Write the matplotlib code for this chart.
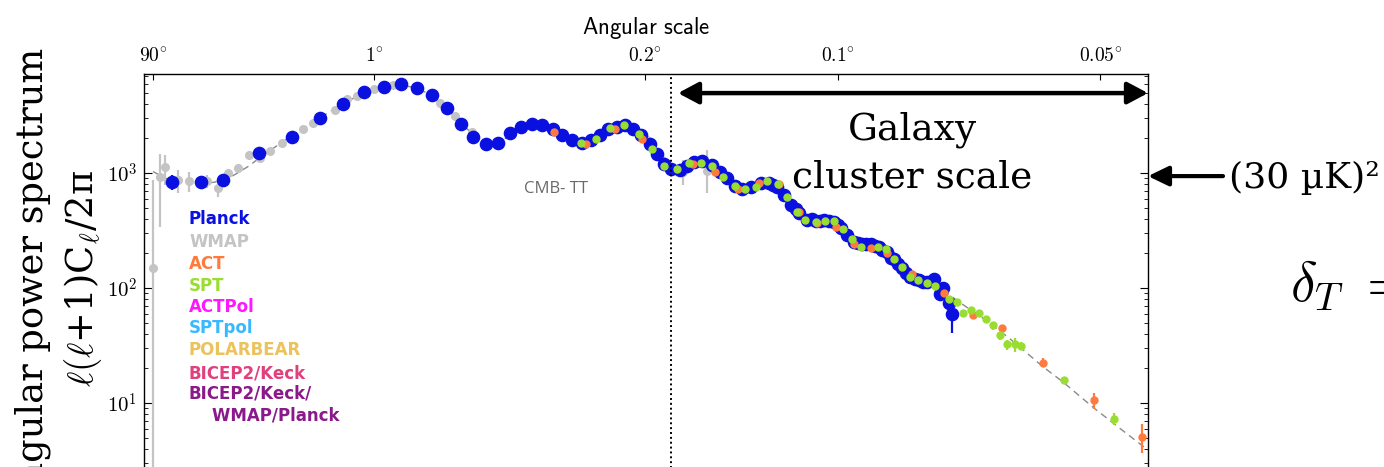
import numpy as np
import matplotlib
matplotlib.use("Agg")
import matplotlib.pyplot as plt
from matplotlib.ticker import NullLocator, LogLocator, NullFormatter

plt.rcParams['mathtext.fontset'] = 'cm'

# ---------------- data ----------------
theory_ell = [2, 4, 7, 12, 20, 30, 40, 50, 70, 90, 110, 130, 150, 170, 195, 220, 245, 270,
              300, 330, 360, 390, 415, 440, 470, 500, 530, 555, 590, 620, 650, 680, 710,
              750, 790, 825, 855, 885, 915, 945, 975, 1000, 1035, 1070, 1100, 1135, 1175,
              1210, 1245, 1280, 1315, 1355, 1400, 1440, 1480, 1515, 1550, 1590, 1635, 1680,
              1730, 1780, 1820, 1855, 1895, 1940, 1990, 2040, 2090, 2130, 2180, 2230, 2285,
              2340, 2400, 2450, 2500, 2600, 2700, 2800, 2900, 3000, 3150, 3300, 3550, 3800, 4000]
theory_D = [1030, 900, 840, 815, 830, 950, 1150, 1420, 1950, 2500, 3150, 3850, 4500, 5100,
            5600, 5800, 5600, 5050, 4150, 3150, 2400, 1950, 1800, 1850, 2200, 2500, 2640,
            2620, 2400, 2120, 1900, 1820, 1930, 2230, 2480, 2560, 2420, 2100, 1750, 1430,
            1200, 1080, 1070, 1160, 1235, 1255, 1170, 1030, 890, 780, 730, 760, 820, 830,
            770, 650, 535, 450, 395, 380, 385, 375, 335, 292, 255, 238, 235, 226, 205, 180,
            150, 127, 116, 110, 103, 95, 84, 68, 56, 45.5, 36.5, 29, 20.6, 15.3, 9.0, 5.6, 3.9]

planck_ell = [5.3, 14.3, 24.3, 47.6, 76, 106, 135, 165, 195, 225, 254, 284, 314, 345, 374,
              404, 435, 464, 495, 526, 555, 587, 615, 646, 676, 708, 736, 766, 797, 824, 856,
              883, 917, 947, 975, 1000, 1038, 1068, 1098, 1131, 1176, 1209, 1243, 1276, 1312,
              1352, 1400, 1441, 1462, 1482, 1516, 1550, 1575, 1592, 1636, 1660, 1680, 1705,
              1728, 1755, 1779, 1803, 1822, 1855, 1893, 1917, 1941, 1965, 1990, 2015, 2039,
              2060, 2089, 2111, 2130, 2155, 2180, 2206, 2231, 2258, 2284, 2308, 2338, 2380,
              2418, 2443, 2480, 2502]
planck_D = [830, 830, 864, 1493, 2069, 3027, 3959, 5030, 5597, 5940, 5520, 4740, 3700, 2685,
            2044, 1798, 1823, 2214, 2497, 2651, 2630, 2428, 2153, 1936, 1834, 1936, 2153,
            2399, 2527, 2599, 2428, 2153, 1777, 1463, 1198, 1077, 1062, 1150, 1239, 1279,
            1174, 1026, 899, 776, 722, 760, 823, 823, 790, 760, 644, 527, 483, 446, 390, 400,
            382, 385, 390, 385, 377, 353, 330, 289, 253, 245, 241, 240, 241, 232, 229, 215,
            207, 181, 178, 163, 148, 136, 125, 120, 117, 113, 113, 120, 89, 101, 74, 60]
planck_lo = [711] + [None] * (len(planck_ell) - 2) + [41]
planck_hi = [961] + [None] * (len(planck_ell) - 2) + [78]

wmap_ell = [2, 3, 4, 7, 10, 17, 22, 27, 33, 40, 48, 56, 66, 87, 98, 124, 140, 154, 179, 211,
            300, 331, 370, 906, 965, 1052, 1153]
wmap_D = [150, 918, 1121, 869, 857, 857, 736, 995, 1112, 1434, 1342, 1555, 1810, 2399, 2704,
          3530, 4375, 4700, 5373, 5800, 4083, 3132, 2287, 1950, 1300, 1020, 1040]
wmap_lo = [1, 340, 786, 670, 688, 736, 622] + [None] * 16 + [1800, 1150, 786, 670]
wmap_hi = [869, 1464, 1420, 1062, 1026, 961, 813] + [None] * 16 + [2100, 1480, 1300, 1585]

act_ell = [591, 691, 790, 890, 1092, 1190, 1292, 1392, 1490, 1592, 1690, 1790, 1893, 1990,
           2090, 2243, 2446, 2645, 2845, 3146, 3548, 3947]
act_D = [2287, 1777, 2399, 1963, 1198, 1026, 721, 813, 800, 460, 370, 341, 241, 222, 201,
         133, 91, 58, 44.6, 22.5, 10.6, 5.1]
act_lo = [None] * 19 + [20.5, 8.8, 3.7]
act_hi = [None] * 19 + [24.5, 12.2, 6.6]

spt_ell = [674, 725, 773, 823, 876, 926, 975, 1027, 1075, 1125, 1176, 1224, 1276, 1327, 1378,
           1429, 1483, 1530, 1580, 1626, 1680, 1729, 1779, 1831, 1879, 1932, 2033, 2084, 2130,
           2176, 2229, 2282, 2338, 2387, 2481, 2532, 2577, 2631, 2681, 2733, 2785, 2832, 2884,
           2938, 2983, 3313, 3712]
spt_D = [1812, 1963, 2459, 2630, 2196, 1606, 1157, 1077, 1225, 1214, 1150, 928, 776, 726, 760,
         852, 802, 615, 461, 390, 377, 384, 382, 324, 266, 229, 229, 217, 178, 152, 124, 117,
         110, 105, 80, 75, 61, 64.4, 61, 54, 47.7, 39, 32.6, 32.6, 31, 15.8, 7.2]
spt_lo = [None] * 40 + [43, 35.3, 28.9, 28, 28.9, None, 6.4]
spt_hi = [None] * 40 + [50.7, 41, 35.3, 37, 34, None, 8.2]

legend_names = ['Planck', 'WMAP', 'ACT', 'SPT', 'ACTPol', 'SPTpol', 'POLARBEAR',
                'BICEP2/Keck', 'BICEP2/Keck/', '    WMAP/Planck']
legend_colors = ['#0a10e0', '#c4c4c4', '#ff7a3c', '#99dd33', '#ff18ff', '#38b8ff',
                 '#ebc25c', '#e0407c', '#8a1a8a', '#8a1a8a']

angle_deg = [90, 1, 0.2, 0.1, 0.05]
angle_labels = [r'$\mathsf{90^{\circ}}$', r'$\mathsf{1^{\circ}}$', r'$\mathsf{0.2^{\circ}}$',
                r'$\mathsf{0.1^{\circ}}$', r'$\mathsf{0.05^{\circ}}$']
cluster_ell_min = 1030
vline_ell = 1000
ref_level = 940   # (30 uK)^2 marker level

# ---------------- figure ----------------
W, H = 1384, 467
fig = plt.figure(figsize=(W / 100, H / 100), dpi=100)


def fx(px):
    return px / W


def fy(py):
    return 1 - py / H


ax = fig.add_axes([fx(144), fy(518), (1148 - 144) / W, (518 - 74) / H])

P = 0.45
ax.set_xscale('function', functions=(lambda x: np.power(np.clip(x, 1e-9, None), P),
                                     lambda u: np.power(np.clip(u, 0, None), 1 / P)))
ax.set_yscale('log')
ax.set_xlim(1, 4000)
ax.set_ylim(1, 10 ** 3.861)


def yerr(D, lo, hi):
    lo_e = [d - l if l is not None else 0 for d, l in zip(D, lo)]
    hi_e = [h - d if h is not None else 0 for d, h in zip(D, hi)]
    return [lo_e, hi_e]


ax.plot(theory_ell, theory_D, ls=(0, (5, 3.5)), color='#8a8a8a', lw=1.0, zorder=1.5)

ax.errorbar(wmap_ell, wmap_D, yerr=yerr(wmap_D, wmap_lo, wmap_hi), fmt='o', ms=5.5,
            color=legend_colors[1], mec=legend_colors[1], elinewidth=1.6, capsize=0, zorder=2)
ax.errorbar(planck_ell, planck_D, yerr=yerr(planck_D, planck_lo, planck_hi), fmt='o', ms=8.8,
            color=legend_colors[0], mec=legend_colors[0], elinewidth=1.6, capsize=0, zorder=3)
ax.errorbar(act_ell, act_D, yerr=yerr(act_D, act_lo, act_hi), fmt='o', ms=5.0,
            color=legend_colors[2], mec=legend_colors[2], elinewidth=1.6, capsize=0, zorder=4)
ax.errorbar(spt_ell, spt_D, yerr=yerr(spt_D, spt_lo, spt_hi), fmt='o', ms=5.0,
            color=legend_colors[3], mec=legend_colors[3], elinewidth=1.6, capsize=0, zorder=4.5)

ax.axvline(vline_ell, color='k', ls=(0, (1, 1.5)), lw=1.4, zorder=6)

# axes styling
for s in ax.spines.values():
    s.set_linewidth(1.0)
ax.xaxis.set_ticks_position('top')
ax.xaxis.set_label_position('top')
ax.set_xticks([180.0 / a for a in angle_deg])
ax.set_xticklabels(angle_labels)
ax.xaxis.set_minor_locator(NullLocator())
ax.tick_params(axis='x', which='major', direction='in', length=4, width=0.8,
               labelsize=14, pad=6, top=True, bottom=False)
ax.set_xlabel(r'$\mathsf{Angular\ scale}$', fontsize=16.5, labelpad=9)

ax.set_yticks([10, 100, 1000])
ax.set_yticklabels([r'$10^{1}$', r'$10^{2}$', r'$10^{3}$'])
ax.yaxis.set_minor_locator(LogLocator(base=10, subs=np.arange(2, 10)))
ax.yaxis.set_minor_formatter(NullFormatter())
ax.tick_params(axis='y', which='major', direction='in', length=6, width=0.8,
               labelsize=15, pad=5, left=True, right=True)
ax.tick_params(axis='y', which='minor', direction='in', length=3, width=0.6,
               left=True, right=True)

# arrows
ax.annotate('', xy=(4000, 0.957), xytext=(cluster_ell_min, 0.957),
            xycoords=ax.get_xaxis_transform(), textcoords=ax.get_xaxis_transform(),
            arrowprops=dict(arrowstyle='<|-|>,head_length=0.62,head_width=0.33',
                            lw=3.2, color='k', shrinkA=0, shrinkB=0, mutation_scale=20),
            annotation_clip=False)
ax.annotate('', xy=(4000, ref_level), xytext=(75, 0), xycoords='data',
            textcoords='offset pixels',
            arrowprops=dict(arrowstyle='-|>,head_length=0.62,head_width=0.3',
                            lw=3.0, color='k', shrinkA=0, shrinkB=0, mutation_scale=20),
            annotation_clip=False)

# texts
serif = 'DejaVu Serif'
fig.text(fx(912), fy(140), 'Galaxy', family=serif, fontsize=27, ha='center', va='baseline')
fig.text(fx(912), fy(188), 'cluster scale', family=serif, fontsize=27, ha='center',
         va='baseline')
fig.text(fx(1229), fy(178), '(30 µK)²', family=serif, fontsize=26, ha='left', va='center')
fig.text(fx(1290), fy(302), r'$\delta_T\ =$', fontsize=40, ha='left', va='baseline')

fig.text(fx(43), fy(48), 'Angular power spectrum', family=serif, fontsize=26.5, rotation=90,
         rotation_mode='anchor', ha='right', va='baseline')
fig.text(fx(93), fy(170), r'$\ell(\ell$+1)C$_\ell$/2π', family=serif, fontsize=26.5,
         rotation=90, rotation_mode='anchor', ha='right', va='baseline')

fig.text(fx(556), fy(189), 'CMB- TT', family='Open Sans', fontsize=12, color='#6a6a6a',
         ha='center', va='center')

leg_y = [219, 242, 264, 286, 307, 328, 350, 373, 394, 416]
for name, col, yy in zip(legend_names, legend_colors, leg_y):
    fig.text(fx(189), fy(yy), name, family='DejaVu Sans', fontweight='bold', fontsize=12,
             color=col, ha='left', va='center')

fig.savefig('out.png', dpi=100)
